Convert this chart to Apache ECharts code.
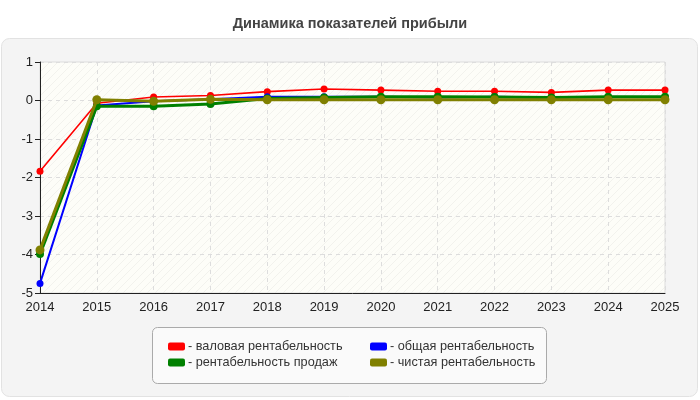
<!DOCTYPE html>
<html>
<head>
<meta charset="utf-8">
<script src="https://cdn.jsdelivr.net/npm/echarts@6/dist/echarts.min.js"></script>
<style>html,body{margin:0;padding:0;background:#fff;}#c{width:700px;height:400px;}</style>
</head>
<body>
<div id="c"></div>
<script>
const years = ['2014','2015','2016','2017','2018','2019','2020','2021','2022','2023','2024','2025'];
const grossMargin = [-1.84, -0.07, 0.09, 0.13, 0.23, 0.30, 0.27, 0.24, 0.24, 0.21, 0.27, 0.27];
const totalMargin = [-4.75, -0.13, -0.02, 0.03, 0.10, 0.10, 0.10, 0.08, 0.10, 0.08, 0.09, 0.09];
const salesMargin = [-3.99, -0.15, -0.15, -0.09, 0.05, 0.08, 0.10, 0.10, 0.09, 0.08, 0.10, 0.10];
const netMargin = [-3.88, 0.02, -0.02, 0.03, 0.02, 0.02, 0.02, 0.02, 0.02, 0.02, 0.02, 0.02];
const names = ['валовая рентабельность','общая рентабельность','рентабельность продаж','чистая рентабельность'];
const colors = ['#ff0000','#0000ff','#008000','#808000'];

// hatch pattern
const pc = document.createElement('canvas');
pc.width = 8; pc.height = 8;
const ctx = pc.getContext('2d');
ctx.fillStyle = '#fdfdf8';
ctx.fillRect(0,0,8,8);
ctx.strokeStyle = 'rgba(0,0,0,0.045)';
ctx.lineWidth = 1;
ctx.beginPath();
ctx.moveTo(0,8); ctx.lineTo(8,0);
ctx.moveTo(-4,4); ctx.lineTo(4,-4);
ctx.moveTo(4,12); ctx.lineTo(12,4);
ctx.stroke();

const chart = echarts.init(document.getElementById('c'));
const fontFam = 'Liberation Sans, Arial, sans-serif';
function mk(i, data, w, sym) {
  return {
    name: names[i], type: 'line', data: data,
    symbol: 'circle', symbolSize: sym,
    lineStyle: {color: colors[i], width: w},
    itemStyle: {color: colors[i]},
    z: 3 + i
  };
}
chart.setOption({
  animation: false,
  textStyle: {fontFamily: fontFam},
  title: {
    text: 'Динамика показателей прибыли',
    left: 'center', top: 11,
    textStyle: {fontSize: 14.5, fontWeight: 'bold', color: '#444', fontFamily: fontFam}
  },
  graphic: [
    {type: 'rect', z: -10, shape: {x: 1.5, y: 38.5, width: 696, height: 358, r: 8},
     style: {fill: '#f4f4f4', stroke: '#e2e2e2', lineWidth: 1}},
    {type: 'rect', z: -5, shape: {x: 152.5, y: 327.5, width: 394, height: 56, r: 5},
     style: {fill: '#fafafa', stroke: '#aaaaaa', lineWidth: 1}}
  ],
  grid: {
    left: 40, right: 35, top: 62, bottom: 107,
    show: true, backgroundColor: {image: pc, repeat: 'repeat'},
    borderColor: '#dddddd', borderWidth: 1
  },
  xAxis: {
    type: 'category', data: years, boundaryGap: false,
    axisLine: {onZero: false, lineStyle: {color: '#222', width: 1}},
    axisTick: {show: false},
    axisLabel: {color: '#222', fontSize: 13, margin: 8},
    splitLine: {show: true, lineStyle: {color: '#dddddd', type: [4, 4]}}
  },
  yAxis: {
    type: 'value', min: -5, max: 1, interval: 1,
    axisLine: {show: true, lineStyle: {color: '#222', width: 1}},
    axisTick: {show: true, length: 5, lineStyle: {color: '#222'}},
    axisLabel: {color: '#222', fontSize: 13, margin: 7},
    splitLine: {show: true, lineStyle: {color: '#dddddd', type: [4, 4]}}
  },
  legend: [
    {
      orient: 'vertical', left: 163, top: 335, itemGap: 3,
      itemWidth: 17, itemHeight: 8, icon: 'roundRect',
      data: [names[0], names[2]],
      formatter: '- {name}',
      textStyle: {fontSize: 12.7, color: '#333', fontFamily: fontFam, padding: [0,0,0,-2]}
    },
    {
      orient: 'vertical', left: 365, top: 335, itemGap: 3,
      itemWidth: 17, itemHeight: 8, icon: 'roundRect',
      data: [names[1], names[3]],
      formatter: '- {name}',
      textStyle: {fontSize: 12.7, color: '#333', fontFamily: fontFam, padding: [0,0,0,-2]}
    }
  ],
  series: [
    mk(0, grossMargin, 1.6, 7),
    mk(1, totalMargin, 2, 7),
    mk(2, salesMargin, 3, 8),
    mk(3, netMargin, 3, 9)
  ]
});
</script>
</body>
</html>
